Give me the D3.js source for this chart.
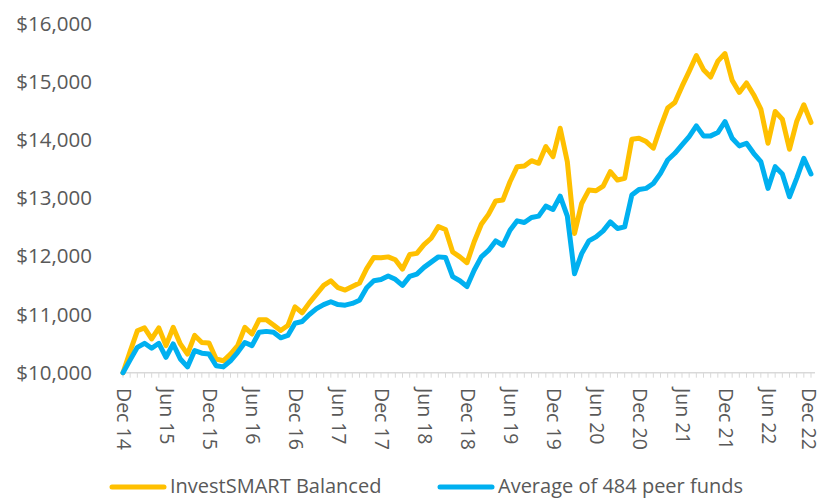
<!DOCTYPE html>
<html>
<head>
<meta charset="utf-8">
<script src="https://cdn.jsdelivr.net/npm/d3@7"></script>
<style>
  body { margin: 0; background: #fff; }
  text { font-family: "Open Sans", sans-serif; fill: #595959; }
</style>
</head>
<body>
<div id="chart"></div>
<script>
// monthly values, Dec 14 .. Dec 22 (97 months)
var balanced = [
  10000, 10370, 10720, 10770, 10580, 10770, 10465, 10780, 10495, 10320, 10640, 10520,
  10510, 10235, 10205, 10320, 10465, 10780, 10665, 10910, 10910, 10820, 10725, 10810,
  11130, 11030, 11200, 11350, 11500, 11580, 11460, 11420, 11480, 11540, 11790, 11980,
  11975, 11990, 11940, 11780, 12030, 12050, 12200, 12310, 12510, 12460, 12075, 11990,
  11890, 12250, 12550, 12720, 12950, 12966, 13281, 13540, 13552, 13643, 13598, 13885,
  13712, 14200, 13626, 12391, 12908, 13138, 13126, 13207, 13454, 13310, 13339, 14012,
  14029, 13971, 13857, 14219, 14547, 14644, 14919, 15178, 15448, 15207, 15080, 15353,
  15483, 15023, 14816, 14978, 14776, 14529, 13943, 14488, 14356, 13840, 14316, 14603,
  14298
];

var peers = [
  10000, 10220, 10436, 10505, 10420, 10505, 10265, 10495, 10235, 10100, 10380, 10335,
  10320, 10120, 10100, 10205, 10350, 10520, 10465, 10695, 10710, 10695, 10600, 10640,
  10850, 10880, 11000, 11100, 11170, 11220, 11170, 11160, 11190, 11245, 11460, 11580,
  11600, 11660, 11605, 11500, 11655, 11695, 11810, 11900, 11990, 11980, 11650, 11580,
  11480, 11760, 11990, 12100, 12264, 12190, 12448, 12609, 12580, 12667, 12690, 12862,
  12805, 13034, 12690, 11701, 12046, 12264, 12333, 12437, 12592, 12477, 12505, 13052,
  13149, 13167, 13250, 13425, 13655, 13770, 13914, 14057, 14241, 14069, 14069, 14126,
  14316, 14029, 13897, 13943, 13770, 13626, 13167, 13540, 13414, 13023, 13339, 13684,
  13414
];

var tickLabels = ["Dec 14", "Jun 15", "Dec 15", "Jun 16", "Dec 16", "Jun 17", "Dec 17",
  "Jun 18", "Dec 18", "Jun 19", "Dec 19", "Jun 20", "Dec 20", "Jun 21", "Dec 21",
  "Jun 22", "Dec 22"];
var yTicks = [10000, 11000, 12000, 13000, 14000, 15000, 16000];

var series = [
  { name: "InvestSMART Balanced", values: balanced, color: "#FFC000" },
  { name: "Average of 484 peer funds", values: peers, color: "#00B0F0" }
];

var width = 823, height = 499;

var svg = d3.select("#chart").append("svg")
  .attr("width", width)
  .attr("height", height);

var x = d3.scaleLinear()
  .domain([0, balanced.length - 1])
  .range([123, 811]);

var y = d3.scaleLinear()
  .domain([10000, 16000])
  .range([372.7, 23.5]);

// y labels
svg.append("g")
  .selectAll("text")
  .data(yTicks)
  .enter().append("text")
  .attr("x", 92)
  .attr("y", function (d) { return y(d); })
  .attr("dy", "0.35em")
  .attr("text-anchor", "end")
  .style("font-size", "20.5px")
  .text(function (d) { return "$" + d3.format(",")(d); });

// x axis: a tick every month
var xAxis = svg.append("g");
xAxis.append("line")
  .attr("x1", x(0) - 3).attr("x2", x(96) + 4)
  .attr("y1", y(10000)).attr("y2", y(10000))
  .attr("stroke", "#d9d9d9")
  .attr("stroke-width", 1.5);
xAxis.selectAll(".tick")
  .data(d3.range(balanced.length))
  .enter().append("line")
  .attr("class", "tick")
  .attr("x1", function (d) { return x(d); })
  .attr("x2", function (d) { return x(d); })
  .attr("y1", y(10000))
  .attr("y2", y(10000) + 5)
  .attr("stroke", "#d9d9d9")
  .attr("stroke-width", 1);

// rotated labels every 6 months; the last one nudged so it stays inside the page
xAxis.selectAll(".lbl")
  .data(tickLabels)
  .enter().append("text")
  .attr("class", "lbl")
  .attr("transform", function (d, i) {
    return "translate(" + x(i * 6) + "," + 388 + ") rotate(90)";
  })
  .attr("dy", function (d, i) { return i === tickLabels.length - 1 ? "0.47em" : "0.3em"; })
  .attr("text-anchor", "start")
  .style("font-size", "19.5px")
  .text(function (d) { return d; });

// lines
var line = d3.line()
  .x(function (d, i) { return x(i); })
  .y(function (d) { return y(d); });

svg.selectAll(".series")
  .data(series)
  .enter().append("path")
  .attr("class", "series")
  .attr("d", function (d) { return line(d.values); })
  .attr("fill", "none")
  .attr("stroke", function (d) { return d.color; })
  .attr("stroke-width", 5)
  .attr("stroke-linejoin", "round")
  .attr("stroke-linecap", "round");

// legend
var legendX = [110, 438];
var legend = svg.selectAll(".legend")
  .data(series)
  .enter().append("g")
  .attr("class", "legend")
  .attr("transform", function (d, i) { return "translate(" + legendX[i] + ",487)"; });

legend.append("line")
  .attr("x1", 2).attr("x2", 54)
  .attr("y1", 0).attr("y2", 0)
  .attr("stroke", function (d) { return d.color; })
  .attr("stroke-width", 5)
  .attr("stroke-linecap", "round");

legend.append("text")
  .attr("x", 60)
  .attr("y", 0)
  .attr("dy", "0.3em")
  .style("font-size", "20px")
  .text(function (d) { return d.name; });
</script>
</body>
</html>
